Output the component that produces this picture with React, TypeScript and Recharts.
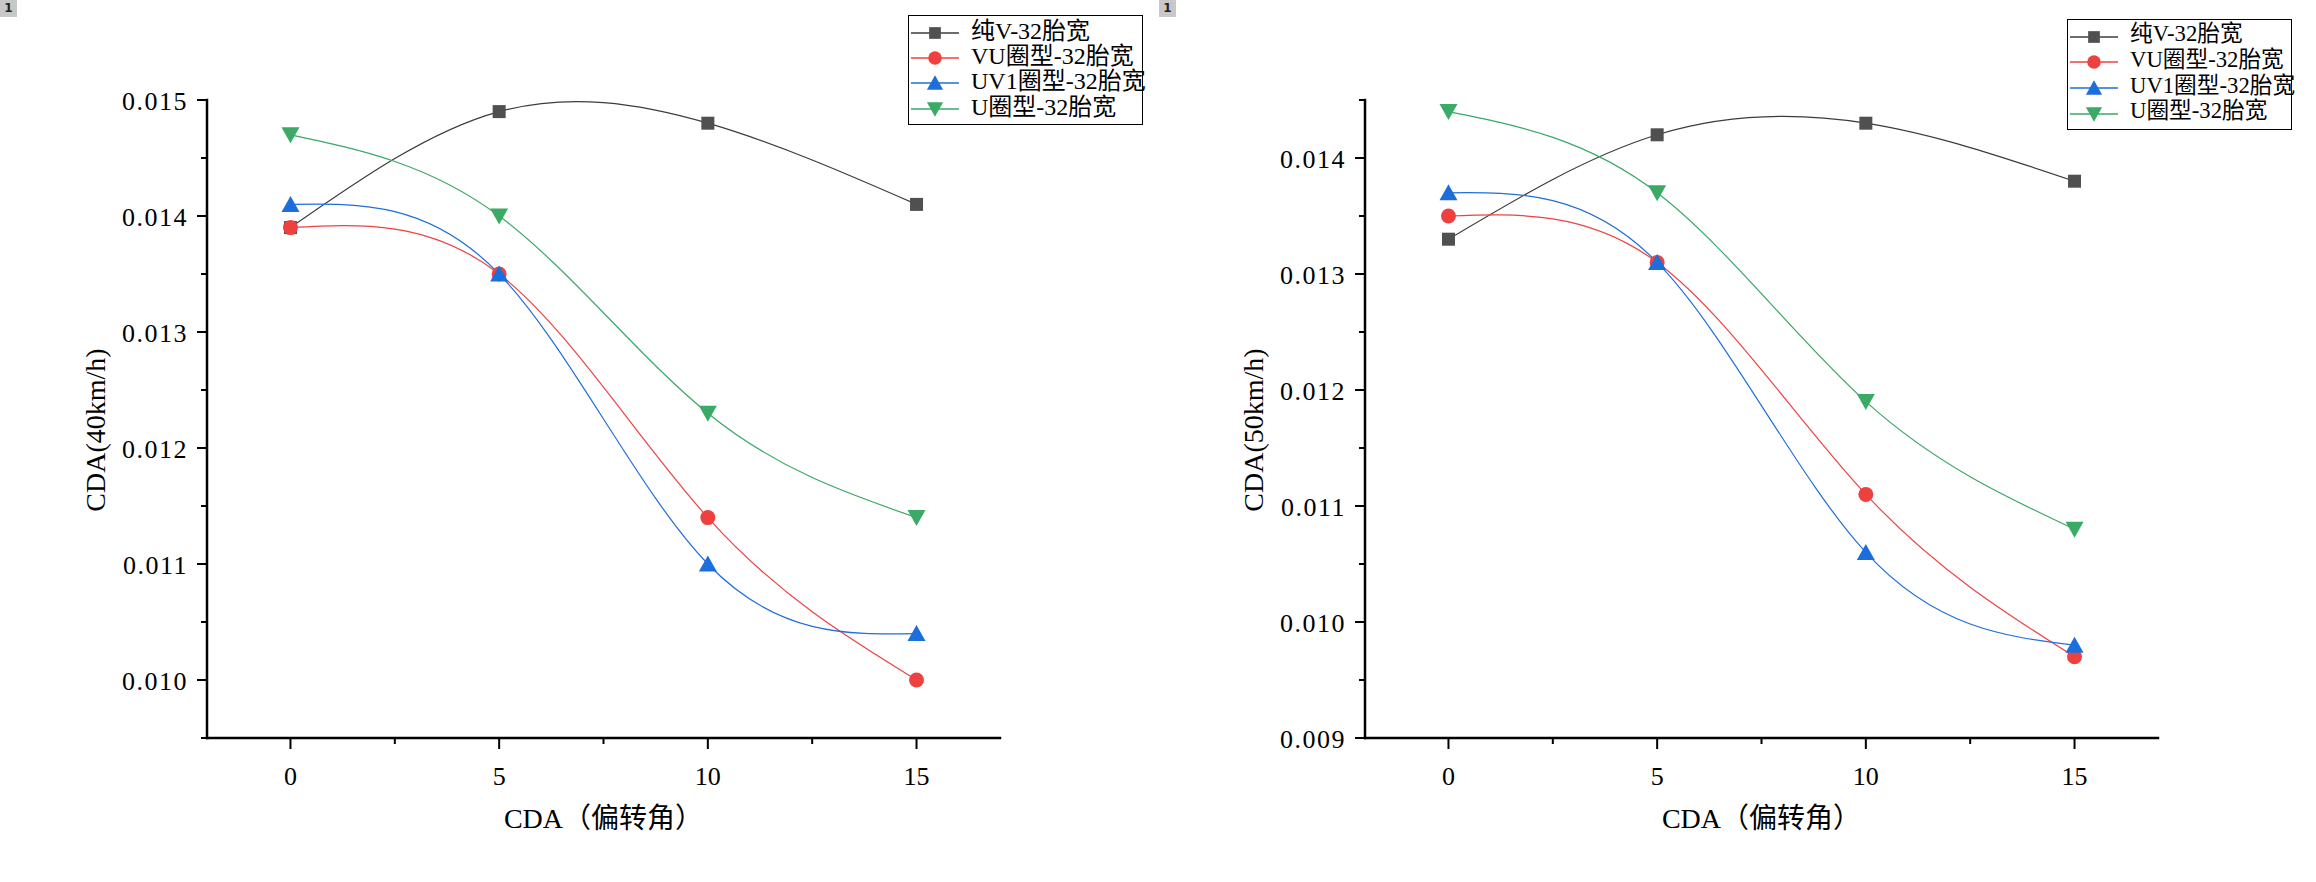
import React from "react";
import { LineChart, Line, XAxis, YAxis, Legend } from "recharts";

// yaw angle (deg)
const angles = [0, 5, 10, 15];
const xTicks = [0, 2.5, 5, 7.5, 10, 12.5, 15];

const seriesNames = ["纯V-32胎宽", "VU圈型-32胎宽", "UV1圈型-32胎宽", "U圈型-32胎宽"];

// CDA at 40 km/h
const pureV40 = [0.0139, 0.0149, 0.0148, 0.0141];
const vuRing40 = [0.0139, 0.0135, 0.0114, 0.01];
const uv1Ring40 = [0.0141, 0.0135, 0.011, 0.0104];
const uRing40 = [0.0147, 0.014, 0.0123, 0.0114];
const yTicks40 = [0.0095, 0.01, 0.0105, 0.011, 0.0115, 0.012, 0.0125, 0.013, 0.0135, 0.014, 0.0145, 0.015];

// CDA at 50 km/h
const pureV50 = [0.0133, 0.0142, 0.0143, 0.0138];
const vuRing50 = [0.0135, 0.0131, 0.0111, 0.0097];
const uv1Ring50 = [0.0137, 0.0131, 0.0106, 0.0098];
const uRing50 = [0.0144, 0.0137, 0.0119, 0.0108];
const yTicks50 = [0.009, 0.0095, 0.01, 0.0105, 0.011, 0.0115, 0.012, 0.0125, 0.013, 0.0135, 0.014, 0.0145];

const SERIF = '"Liberation Serif", "Noto Sans CJK SC", serif';

const series = [
  { key: "pureV", name: seriesNames[0], line: "#3c3c3c", fill: "#505050", shape: "square" },
  { key: "vuRing", name: seriesNames[1], line: "#ee4242", fill: "#ef4040", shape: "circle" },
  { key: "uv1Ring", name: seriesNames[2], line: "#1f6fdc", fill: "#1c6edc", shape: "up" },
  { key: "uRing", name: seriesNames[3], line: "#3aa866", fill: "#3aaa66", shape: "down" },
];

const buildRows = (a: number[], b: number[], c: number[], d: number[]) =>
  angles.map((angle, i) => ({ angle, pureV: a[i], vuRing: b[i], uv1Ring: c[i], uRing: d[i] }));

const data40 = buildRows(pureV40, vuRing40, uv1Ring40, uRing40);
const data50 = buildRows(pureV50, vuRing50, uv1Ring50, uRing50);

const Marker = ({ cx, cy, shape, fill, k = 1 }: any) => {
  if (cx == null || cy == null) return null;
  if (shape === "square")
    return <rect x={cx - 6.5 * k} y={cy - 6.5 * k} width={13 * k} height={13 * k} fill={fill} />;
  if (shape === "circle") return <circle cx={cx} cy={cy} r={7.5 * k} fill={fill} />;
  if (shape === "up")
    return (
      <polygon
        points={`${cx},${cy - 8.5 * k} ${cx + 9 * k},${cy + 7.5 * k} ${cx - 9 * k},${cy + 7.5 * k}`}
        fill={fill}
      />
    );
  return (
    <polygon
      points={`${cx},${cy + 8.5 * k} ${cx + 9 * k},${cy - 7.5 * k} ${cx - 9 * k},${cy - 7.5 * k}`}
      fill={fill}
    />
  );
};

const YTick = ({ x, y, payload }: any) => {
  const major = Math.round(payload.value * 10000) % 10 === 0;
  return (
    <g>
      <line x1={x} x2={x - (major ? 10 : 6)} y1={y} y2={y} stroke="#000" strokeWidth={2} />
      {major && (
        <text
          x={x - 19}
          y={y}
          dy="0.38em"
          textAnchor="end"
          fontFamily={SERIF}
          fontSize={26}
          letterSpacing={1.5}
          fill="#000"
        >
          {payload.value.toFixed(3)}
        </text>
      )}
    </g>
  );
};

const XTick = ({ x, y, payload }: any) => {
  const major = payload.value % 5 === 0;
  return (
    <g>
      <line x1={x} x2={x} y1={y} y2={y + (major ? 11 : 6)} stroke="#000" strokeWidth={2} />
      {major && (
        <text x={x} y={y + 47} textAnchor="middle" fontFamily={SERIF} fontSize={26} fill="#000">
          {payload.value}
        </text>
      )}
    </g>
  );
};

const XTitle = ({ viewBox, text }: any) => (
  <text
    x={viewBox.x + viewBox.width / 2}
    y={viewBox.y + 90}
    textAnchor="middle"
    fontFamily={SERIF}
    fontSize={28}
    fill="#000"
  >
    {text}
  </text>
);

const YTitle = ({ viewBox, text }: any) => {
  const ax = viewBox.x + viewBox.width - 102;
  const cy = viewBox.y + viewBox.height / 2 + 11;
  return (
    <text
      transform={`translate(${ax},${cy}) rotate(-90)`}
      textAnchor="middle"
      fontFamily={SERIF}
      fontSize={28}
      fill="#000"
    >
      {text}
    </text>
  );
};

// legend rows follow the series order, not the payload order
const LegendBox = ({ payload, fontSize, rowH }: any) => {
  const items = series
    .map((s) => ({ s, item: (payload || []).find((p: any) => p.dataKey === s.key) }))
    .filter((e) => e.item);
  return (
    <div
      style={{
        border: "1.5px solid #000",
        background: "#fff",
        padding: "4px 0 3px 2px",
        boxSizing: "border-box",
      }}
    >
      {items.map(({ s, item }: any) => (
        <div key={s.key} style={{ display: "flex", alignItems: "center", height: rowH }}>
          <svg width={48} height={20} style={{ flex: "none" }}>
            <line x1={0} x2={48} y1={10} y2={10} stroke={s.line} strokeWidth={1.3} />
            <Marker cx={24} cy={10} shape={s.shape} fill={s.fill} k={0.9} />
          </svg>
          <span
            style={{
              marginLeft: 12,
              fontFamily: SERIF,
              fontSize,
              lineHeight: 1,
              color: "#000",
              whiteSpace: "nowrap",
              position: "relative",
              top: -2,
            }}
          >
            {item.value}
          </span>
        </div>
      ))}
    </div>
  );
};

const Panel = ({ data, yDomain, yTicks, yTitle, legendPos, legendFont, rowH }: any) => (
  <LineChart width={1158} height={882} data={data} margin={{ top: 100, right: 158, bottom: 84, left: 107 }}>
    <XAxis
      dataKey="angle"
      type="number"
      domain={[-2, 17]}
      ticks={xTicks}
      interval={0}
      allowDataOverflow
      height={60}
      tickSize={0}
      tickMargin={0}
      tickLine={false}
      tick={<XTick />}
      axisLine={{ stroke: "#000", strokeWidth: 2.5, strokeLinecap: "square" }}
      label={<XTitle text="CDA（偏转角）" />}
    />
    <YAxis
      type="number"
      domain={yDomain}
      ticks={yTicks}
      interval={0}
      allowDataOverflow
      width={100}
      tickSize={0}
      tickMargin={0}
      tickLine={false}
      tick={<YTick />}
      axisLine={{ stroke: "#000", strokeWidth: 2.5, strokeLinecap: "square" }}
      label={<YTitle text={yTitle} />}
    />
    <Legend
      layout="vertical"
      align="center"
      verticalAlign="middle"
      width={legendPos.width}
      wrapperStyle={{ left: legendPos.left, top: legendPos.top, width: legendPos.width }}
      content={(props: any) => <LegendBox payload={props.payload} fontSize={legendFont} rowH={rowH} />}
    />
    {series.map((s) => (
      <Line
        key={s.key}
        dataKey={s.key}
        name={s.name}
        type="natural"
        stroke={s.line}
        strokeWidth={1.2}
        isAnimationActive={false}
        activeDot={false}
        dot={(p: any) => (
          <Marker key={`${s.key}-${p.index}`} cx={p.cx} cy={p.cy} shape={s.shape} fill={s.fill} />
        )}
      />
    ))}
  </LineChart>
);

const Badge = ({ left }: { left: number }) => (
  <div
    style={{
      position: "absolute",
      left,
      top: 0,
      width: 17,
      height: 17,
      background: "#c8c8c8",
      color: "#222",
      fontFamily: '"DejaVu Sans", sans-serif',
      fontWeight: "bold",
      fontSize: 12,
      lineHeight: "17px",
      textAlign: "center",
    }}
  >
    1
  </div>
);

export default function App() {
  return (
    <div style={{ position: "absolute", left: 0, top: 0, width: 2316, height: 882, background: "#fff" }}>
      <div style={{ position: "absolute", left: 0, top: 0 }}>
        <Panel
          data={data40}
          yDomain={[0.0095, 0.015]}
          yTicks={yTicks40}
          yTitle="CDA(40km/h)"
          legendPos={{ left: 908, top: 15, width: 235 }}
          legendFont={24}
          rowH={25.3}
        />
      </div>
      <div style={{ position: "absolute", left: 1158, top: 0 }}>
        <Panel
          data={data50}
          yDomain={[0.009, 0.0145]}
          yTicks={yTicks50}
          yTitle="CDA(50km/h)"
          legendPos={{ left: 909, top: 19, width: 225 }}
          legendFont={22.7}
          rowH={25.6}
        />
      </div>
      <Badge left={0} />
      <Badge left={1159} />
    </div>
  );
}
